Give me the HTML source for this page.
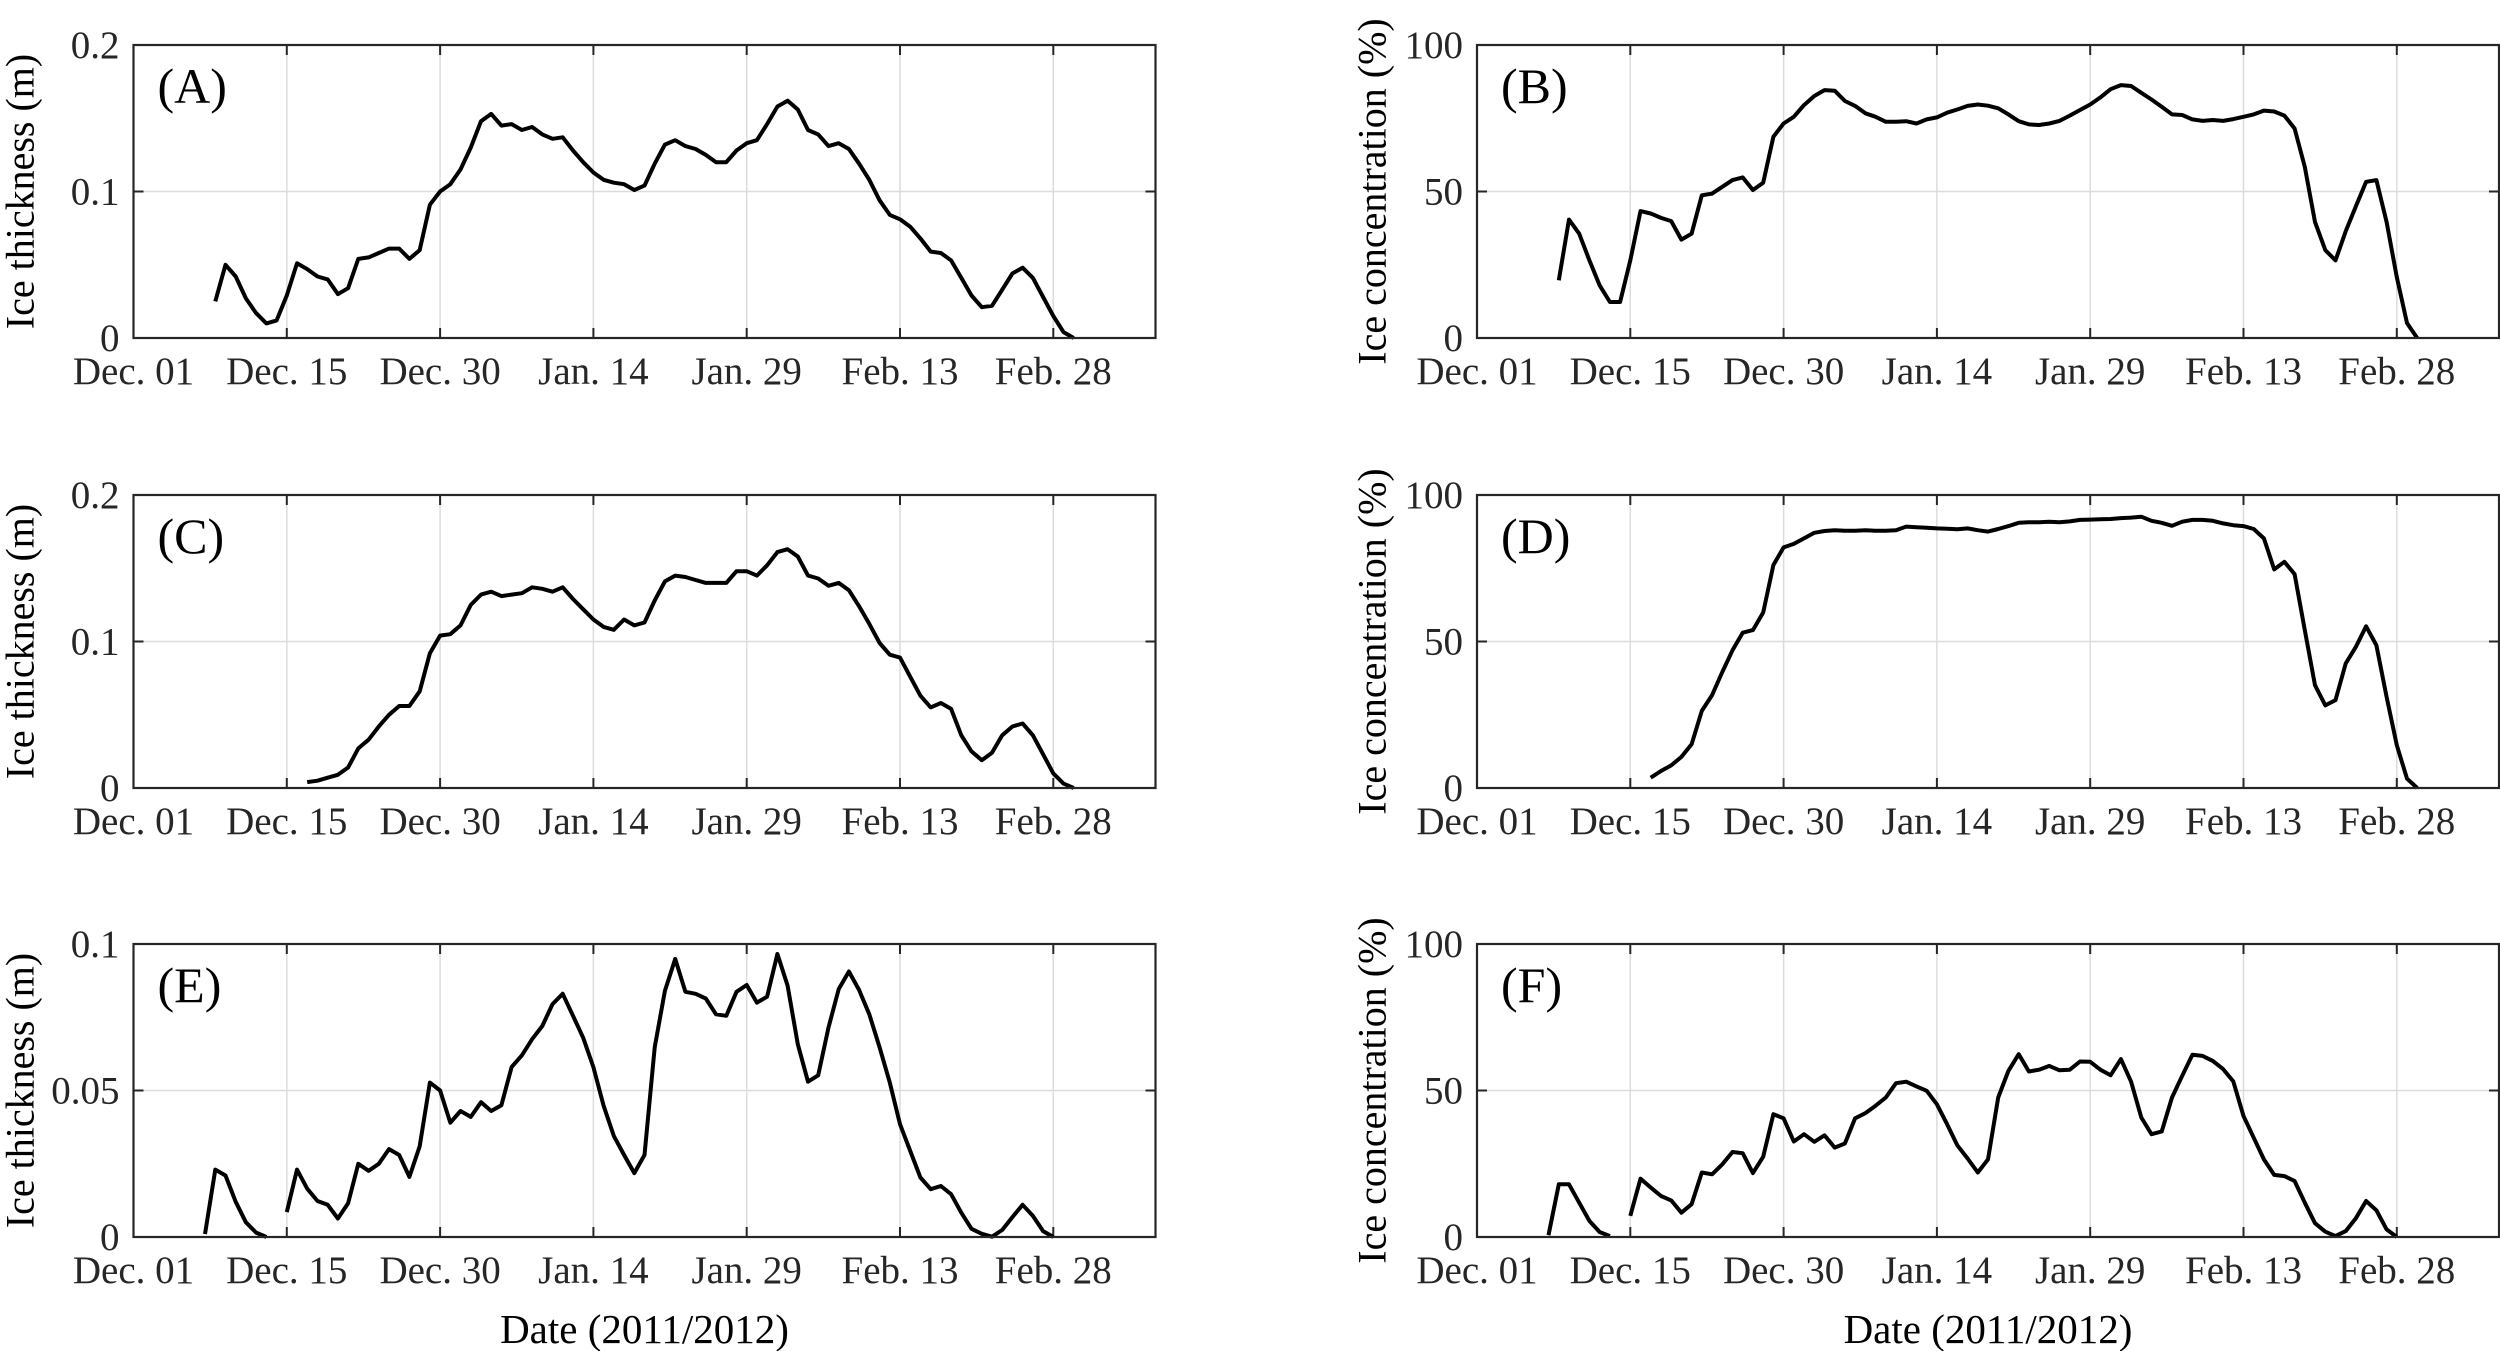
<!DOCTYPE html>
<html><head><meta charset="utf-8">
<style>
html,body{margin:0;padding:0;background:#fff;}
svg{display:block;font-family:"Liberation Serif","Times New Roman",serif;}
text{font-family:"Liberation Serif","Times New Roman",serif;}
</style></head>
<body>
<svg id="fig" width="2500" height="1351" viewBox="0 0 2500 1351" xmlns="http://www.w3.org/2000/svg" font-family="Liberation Serif, serif"></svg>
<script>
const tickLabels = ["Dec. 01","Dec. 15","Dec. 30","Jan. 14","Jan. 29","Feb. 13","Feb. 28"];
const tickDays = [0,15,30,45,60,75,90];
const thickTicks02 = [0,0.1,0.2];
const thickTicks01 = [0,0.05,0.1];
const concTicks = [0,50,100];
const startA = 8, startB = 8, startC = 17, startD = 17, startE = 7, startF = 7;
const seriesA = [.025,.050,.042,.027,.017,.010,.012,.029,.051,.047,.042,.040,.030,.034,.054,.055,.058,.061,.061,.054,.060,.091,.100,.105,.115,.130,.148,.153,.145,.146,.142,.144,.139,.136,.137,.128,.120,.113,.108,.106,.105,.101,.104,.119,.132,.135,.131,.129,.125,.120,.120,.128,.133,.135,.146,.158,.162,.156,.142,.139,.131,.133,.129,.119,.108,.094,.084,.081,.076,.068,.059,.058,.053,.041,.029,.021,.022,.033,.044,.048,.041,.028,.015,.004,0];
const seriesB = [19.7,40.4,35.6,26.5,18,12.3,12.3,26.5,43.3,42.5,41,39.9,33.6,35.6,48.7,49.3,51.6,53.9,54.8,50.5,53,68.7,73.2,75.5,79.5,82.6,84.6,84.4,80.9,79.2,76.7,75.5,73.8,73.8,74,73.2,74.6,75.3,76.9,78,79.2,79.7,79.3,78.4,76.3,74,72.9,72.7,73.2,74.1,75.9,77.8,79.7,82.1,84.9,86.3,86,83.7,81.4,78.9,76.3,76.1,74.6,74.1,74.4,74.1,74.7,75.5,76.3,77.6,77.3,75.9,71.5,58.4,39.6,30,26.5,36.4,45,53.3,53.9,39.6,20.8,5.1,0];
const seriesC = [.004,.005,.007,.009,.014,.027,.033,.042,.050,.056,.056,.066,.092,.104,.105,.111,.125,.132,.134,.131,.132,.133,.137,.136,.134,.137,.129,.122,.115,.110,.108,.115,.111,.113,.128,.141,.145,.144,.142,.140,.140,.140,.148,.148,.145,.152,.161,.163,.158,.145,.143,.138,.140,.135,.124,.112,.099,.091,.089,.076,.063,.055,.058,.054,.036,.025,.019,.024,.036,.042,.044,.036,.023,.010,.003,0];
const seriesD = [3.5,5.8,7.7,10.6,14.9,26.3,31.7,39.6,47,53,53.9,59.9,76.1,82.1,83.3,85.2,87.1,87.7,88,87.8,87.8,88,87.8,87.8,88,89.2,89,88.8,88.6,88.5,88.3,88.6,88,87.5,88.4,89.4,90.5,90.7,90.7,90.9,90.7,91,91.5,91.6,91.7,91.8,92.1,92.3,92.6,91.2,90.5,89.5,90.9,91.5,91.5,91.2,90.3,89.7,89.4,88.4,85.2,74.6,77.2,73,53.9,35.1,28.2,30,42.5,48.2,55.2,48.7,31.1,14.6,3.2,0];
const seriesE = [.001,.023,.021,.012,.005,.0015,0,null,.0085,.023,.0165,.0123,.011,.0063,.0115,.025,.0226,.025,.030,.028,.0205,.031,.0527,.050,.039,.043,.041,.046,.043,.045,.058,.062,.0675,.072,.0795,.083,.0755,.068,.058,.0448,.0345,.028,.0218,.028,.0647,.084,.0949,.0837,.083,.0814,.076,.0755,.0837,.086,.080,.082,.0966,.0858,.0658,.053,.0552,.0715,.0846,.0906,.0843,.076,.0647,.0527,.0385,.0294,.0203,.0163,.0174,.0146,.0083,.0028,.0011,.0001,.0024,.0068,.011,.0072,.002,0];
const seriesF = [0.6,18,18,11.7,5.5,1.7,0.3,null,7.2,19.9,16.9,14,12.5,8.3,11.2,22,21.4,24.8,29,28.6,21.8,27.4,41.9,40.5,32.6,35.1,32.5,34.7,30.5,31.9,40.5,42.3,44.8,47.6,52.5,53,51.4,49.9,45.3,38.5,31.3,26.8,22,26.5,47.6,56.7,62.4,56.5,57.1,58.4,56.9,57.1,59.9,59.8,57.1,55.2,60.7,53,40.8,35.1,36,47.6,55,62.2,61.8,60.1,57.3,53.1,41.3,33.9,26.5,21.2,20.8,19.1,11.7,4.7,1.8,0.3,2,6.4,12.3,9.1,2.6,0];

const NS = "http://www.w3.org/2000/svg";
const FONT = '"Liberation Serif", serif';
const svg = document.getElementById('fig');
function mk(tag, attrs, parent){const e=document.createElementNS(NS,tag);for(const k in attrs)e.setAttribute(k,attrs[k]);if(tag==='text')e.style.fontFamily=FONT;(parent||svg).appendChild(e);return e;}

const W = 1022, H = 293, XMAX = 100;
const panels = [
  {id:'a',label:'(A)',L:133.5,T:45,ymax:0.2,yt:thickTicks02,yl:['0','0.1','0.2'],title:'Ice thickness (m)',tx:20,start:startA,data:seriesA,xlab:false},
  {id:'b',label:'(B)',L:1477,T:45,ymax:100,yt:concTicks,yl:['0','50','100'],title:'Ice concentration (%)',tx:1372,start:startB,data:seriesB,xlab:false},
  {id:'c',label:'(C)',L:133.5,T:495,ymax:0.2,yt:thickTicks02,yl:['0','0.1','0.2'],title:'Ice thickness (m)',tx:20,start:startC,data:seriesC,xlab:false},
  {id:'d',label:'(D)',L:1477,T:495,ymax:100,yt:concTicks,yl:['0','50','100'],title:'Ice concentration (%)',tx:1372,start:startD,data:seriesD,xlab:false},
  {id:'e',label:'(E)',L:133.5,T:944,ymax:0.1,yt:thickTicks01,yl:['0','0.05','0.1'],title:'Ice thickness (m)',tx:20,start:startE,data:seriesE,xlab:true},
  {id:'f',label:'(F)',L:1477,T:944,ymax:100,yt:concTicks,yl:['0','50','100'],title:'Ice concentration (%)',tx:1372,start:startF,data:seriesF,xlab:true}
];

panels.forEach(p=>{
  const g = mk('g',{});
  
  
  const xs = d => p.L + d/XMAX*W;
  const ys = v => p.T + H - v/p.ymax*H;
  const B = p.T+H;
  tickDays.forEach((d,i)=>{
    if(i>0){
      const gl = mk('line',{x1:xs(d),x2:xs(d),y1:p.T,y2:B,stroke:'#dcdcdc','stroke-width':1.5},g);
      
      
      mk('line',{x1:xs(d),x2:xs(d),y1:B,y2:B-10,stroke:'#262626','stroke-width':2},g);
      mk('line',{x1:xs(d),x2:xs(d),y1:p.T,y2:p.T+10,stroke:'#262626','stroke-width':2},g);
    }
    const t = mk('text',{x:xs(d),y:B+46,'font-size':39,'text-anchor':'middle',fill:'#262626'},g);
    t.textContent = tickLabels[i];
    
    
  });
  p.yt.forEach((v,i)=>{
    if(i>0 && i<p.yt.length-1){
      const gl = mk('line',{x1:p.L,x2:p.L+W,y1:ys(v),y2:ys(v),stroke:'#dcdcdc','stroke-width':1.5},g);
      
      
      mk('line',{x1:p.L,x2:p.L+10,y1:ys(v),y2:ys(v),stroke:'#262626','stroke-width':2},g);
      mk('line',{x1:p.L+W-10,x2:p.L+W,y1:ys(v),y2:ys(v),stroke:'#262626','stroke-width':2},g);
    }
    const t = mk('text',{x:p.L-14,y:ys(v)+13,'font-size':39,'text-anchor':'end',fill:'#262626'},g);
    t.textContent = p.yl[i];
    
    
  });
  let segs=[], cur=[];
  p.data.forEach((v,i)=>{
    if(v===null){ if(cur.length) segs.push(cur); cur=[]; }
    else cur.push(xs(p.start+i).toFixed(1)+','+ys(v).toFixed(1));
  });
  if(cur.length) segs.push(cur);
  segs.forEach(s=>{
    const pl = mk('polyline',{points:s.join(' '),fill:'none',stroke:'#000','stroke-width':4,'stroke-linejoin':'round'},g);
    
    
  });
  const fr = mk('rect',{x:p.L,y:p.T,width:W,height:H,fill:'none',stroke:'#262626','stroke-width':2.2},g);
  
  
  const pl = mk('text',{x:p.L+24,y:p.T+58,'font-size':50,fill:'#000'},g);
  pl.textContent = p.label;
  
  
  const cy = p.T+H/2;
  const yt = mk('text',{x:p.tx,y:cy,'font-size':40,'text-anchor':'middle','dominant-baseline':'central',fill:'#000',transform:'rotate(-90 '+p.tx+' '+cy+')'},g);
  yt.textContent = p.title;
  
  
  if(p.xlab){
    const xt = mk('text',{x:p.L+W/2,y:B+106,'font-size':41,'text-anchor':'middle',fill:'#000'},g);
    xt.textContent = 'Date (2011/2012)';
    
    
  }
});
</script>
</body></html>
